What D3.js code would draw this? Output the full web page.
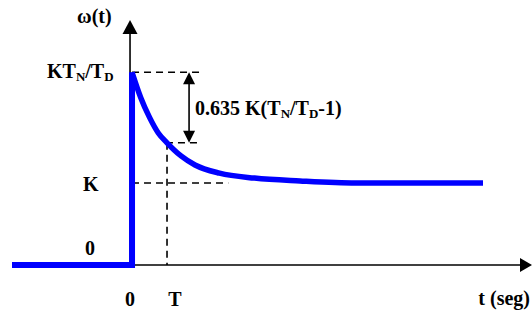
<!DOCTYPE html>
<html>
<head>
  <meta charset="utf-8" />
  <title>Respuesta w(t)</title>
  <script src="https://cdn.jsdelivr.net/npm/d3@7"></script>
  <style>
    body { margin: 0; background: white; }
  </style>
</head>
<body>
<div id="chart"></div>
<script>
  var width = 532, height = 313;

  // step part of the response (t in units of T, w in units of K)
  var stepT = [-3.43, 0, 0];
  var stepW = [0, 0, 2.35];

  // decaying part
  var curveT = [0, 0.25, 0.5, 0.75, 1, 1.4, 1.8, 2.5, 3.5, 4.8, 6.4, 10.03];
  var curveW = [2.35, 2.04, 1.80, 1.61, 1.49, 1.33, 1.22, 1.12, 1.06, 1.025, 1.0, 1.0];

  var wTop = 2.35;   // K TN/TD
  var wK = 1;        // K
  var tT = 1;        // T
  var wAtT = 1.49;

  var xTickVals = [0, 1];
  var xTickLabels = ["0", "T"];

  var x = d3.scaleLinear().domain([-3.43, 11.43]).range([12, 532]);
  var y = d3.scaleLinear().domain([0, 1]).range([265, 183]);

  var svg = d3.select("#chart").append("svg")
      .attr("width", width)
      .attr("height", height);

  // axes
  svg.append("line")
      .attr("x1", x(0) - 2).attr("x2", x(0) - 2)
      .attr("y1", y(0) + 2).attr("y2", 32)
      .attr("stroke", "black").attr("stroke-width", 1.6);
  svg.append("path")
      .attr("d", "M" + (x(0) - 2) + ",20 L" + (x(0) - 9.5) + ",34 L" + (x(0) + 5.5) + ",34 Z")
      .attr("fill", "black");

  svg.append("line")
      .attr("x1", x(0) - 2).attr("x2", x(11.43) - 11)
      .attr("y1", y(0)).attr("y2", y(0))
      .attr("stroke", "black").attr("stroke-width", 1.6);
  svg.append("path")
      .attr("d", "M" + x(11.43) + "," + y(0) + " L" + (x(11.43) - 12) + "," + (y(0) - 7) + " L" + (x(11.43) - 12) + "," + (y(0) + 7) + " Z")
      .attr("fill", "black");

  // dashed guides
  var dash = "7,5";
  function guide(t1, w1, t2, w2) {
    svg.append("line")
        .attr("x1", x(t1)).attr("y1", y(w1))
        .attr("x2", x(t2)).attr("y2", y(w2))
        .attr("stroke", "black").attr("stroke-width", 1.6)
        .attr("stroke-dasharray", dash);
  }
  guide(0, wTop, 1.95, wTop);
  guide(tT - 0.03, wAtT, 1.95, wAtT);
  guide(tT, wAtT, tT, 0);
  guide(0, wK, 2.75, wK);

  // double arrow 0.635 K(TN/TD-1)
  var ta = 1.63;
  svg.append("line")
      .attr("x1", x(ta)).attr("x2", x(ta))
      .attr("y1", y(wTop) + 10).attr("y2", y(wAtT) - 10)
      .attr("stroke", "black").attr("stroke-width", 1.6);
  svg.append("path")
      .attr("d", "M" + x(ta) + "," + y(wTop) + " l-6,12 l12,0 Z")
      .attr("fill", "black");
  svg.append("path")
      .attr("d", "M" + x(ta) + "," + y(wAtT) + " l-6,-12 l12,0 Z")
      .attr("fill", "black");

  // response
  var line = d3.line().x(function(d) { return x(d[0]); }).y(function(d) { return y(d[1]); });
  var curveLine = d3.line().x(function(d) { return x(d[0]); }).y(function(d) { return y(d[1]); })
      .curve(d3.curveMonotoneX);

  svg.append("path")
      .datum(d3.zip(stepT, stepW))
      .attr("d", line)
      .attr("fill", "none").attr("stroke", "#0000ff")
      .attr("stroke-width", 6);
  svg.append("path")
      .datum(d3.zip(curveT, curveW))
      .attr("d", curveLine)
      .attr("fill", "none").attr("stroke", "#0000ff")
      .attr("stroke-width", 5.5);

  // labels
  function label(px, py) {
    return svg.append("text")
        .attr("x", px).attr("y", py)
        .style("font-family", "'Liberation Serif'")
        .style("font-weight", "bold")
        .style("font-size", "20px")
        .style("fill", "black");
  }
  function sub(sel) {
    return sel.append("tspan").style("font-size", "13px").attr("dy", 3);
  }

  label(x(0) - 55, 23).text("ω(t)");

  var topLab = label(x(0) - 85, y(wTop) + 6);
  topLab.append("tspan").text("KT");
  sub(topLab).text("N");
  topLab.append("tspan").attr("dy", -3).text("/T");
  sub(topLab).text("D");

  var diffLab = label(x(ta) + 6, (y(wTop) + y(wAtT)) / 2 + 7);
  diffLab.append("tspan").text("0.635 K(T");
  sub(diffLab).text("N");
  diffLab.append("tspan").attr("dy", -3).text("/T");
  sub(diffLab).text("D");
  diffLab.append("tspan").attr("dy", -3).text("-1)");

  label(x(0) - 49, y(wK) + 8).text("K");
  label(x(0) - 47, y(0) - 10).text("0");

  xTickVals.forEach(function(d, i) {
    label(x(d) + (i === 0 ? -2 : 8), 306)
        .attr("text-anchor", "middle")
        .text(xTickLabels[i]);
  });

  label(530, 305).attr("text-anchor", "end").text("t (seg)");
</script>
</body>
</html>
